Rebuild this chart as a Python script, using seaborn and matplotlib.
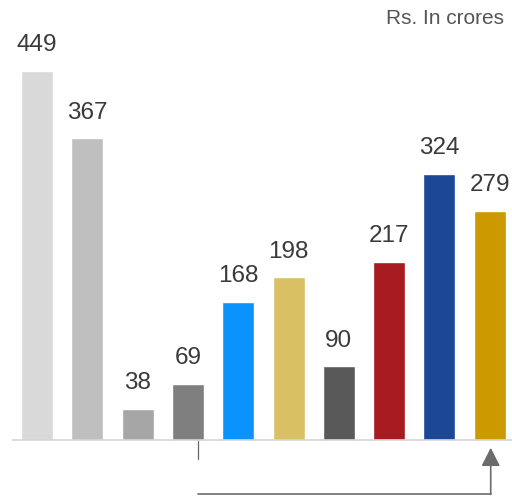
import matplotlib
matplotlib.use("Agg")
import matplotlib.pyplot as plt
import seaborn as sns
import pandas as pd

# bar values (Rs. in crores), read left to right
categories = ["A", "B", "C", "D", "E", "F", "G", "H", "I", "J"]
values = [449, 367, 38, 69, 168, 198, 90, 217, 324, 279]
colors = ["#d9d9d9", "#bfbfbf", "#a6a6a6", "#7f7f7f", "#0a93fd",
          "#d9c064", "#595959", "#a61a20", "#1c4696", "#cc9900"]
unit_label = "Rs. In crores"

df = pd.DataFrame({"cat": categories, "val": values})

sns.set_style("white")
plt.rcParams["font.family"] = ["Liberation Sans", "DejaVu Sans"]

fig = plt.figure(figsize=(5.12, 5.01), dpi=100)
ax = fig.add_axes([0, 0, 1, 1])

sns.barplot(data=df, x="cat", y="val", hue="cat", palette=colors,
            width=0.636, legend=False, ax=ax, saturation=1)

for c in ax.containers:
    ax.bar_label(c, padding=10.5, fontsize=17.5, color="#3a3a3a")

ax.set_xlim(-0.736, 9.443)
ax.set_ylim(-73.7, 534.9)
ax.axis("off")

# baseline
ax.plot([-0.5, 9.443], [0, 0], color="#d4d4d4", lw=1.2, solid_capstyle="butt")

# small tick + connector arrow below the bars
ax.plot([3.2, 3.2], [-0.9, -22.7], color="#666666", lw=0.9)
ax.plot([3.2, 9.02], [-64.9, -64.9], color="#6b6b6b", lw=1.2)
ax.annotate("", xy=(9.02, -9.0), xytext=(9.02, -65.6),
            arrowprops=dict(arrowstyle="-|>,head_length=0.75,head_width=0.38",
                            mutation_scale=15, color="#6b6b6b", lw=1.2,
                            shrinkA=0, shrinkB=0))

fig.text(504 / 512, 1 - 24 / 501, unit_label, ha="right", va="baseline",
         fontsize=15, color="#555555")

fig.savefig("out.png", dpi=100)
